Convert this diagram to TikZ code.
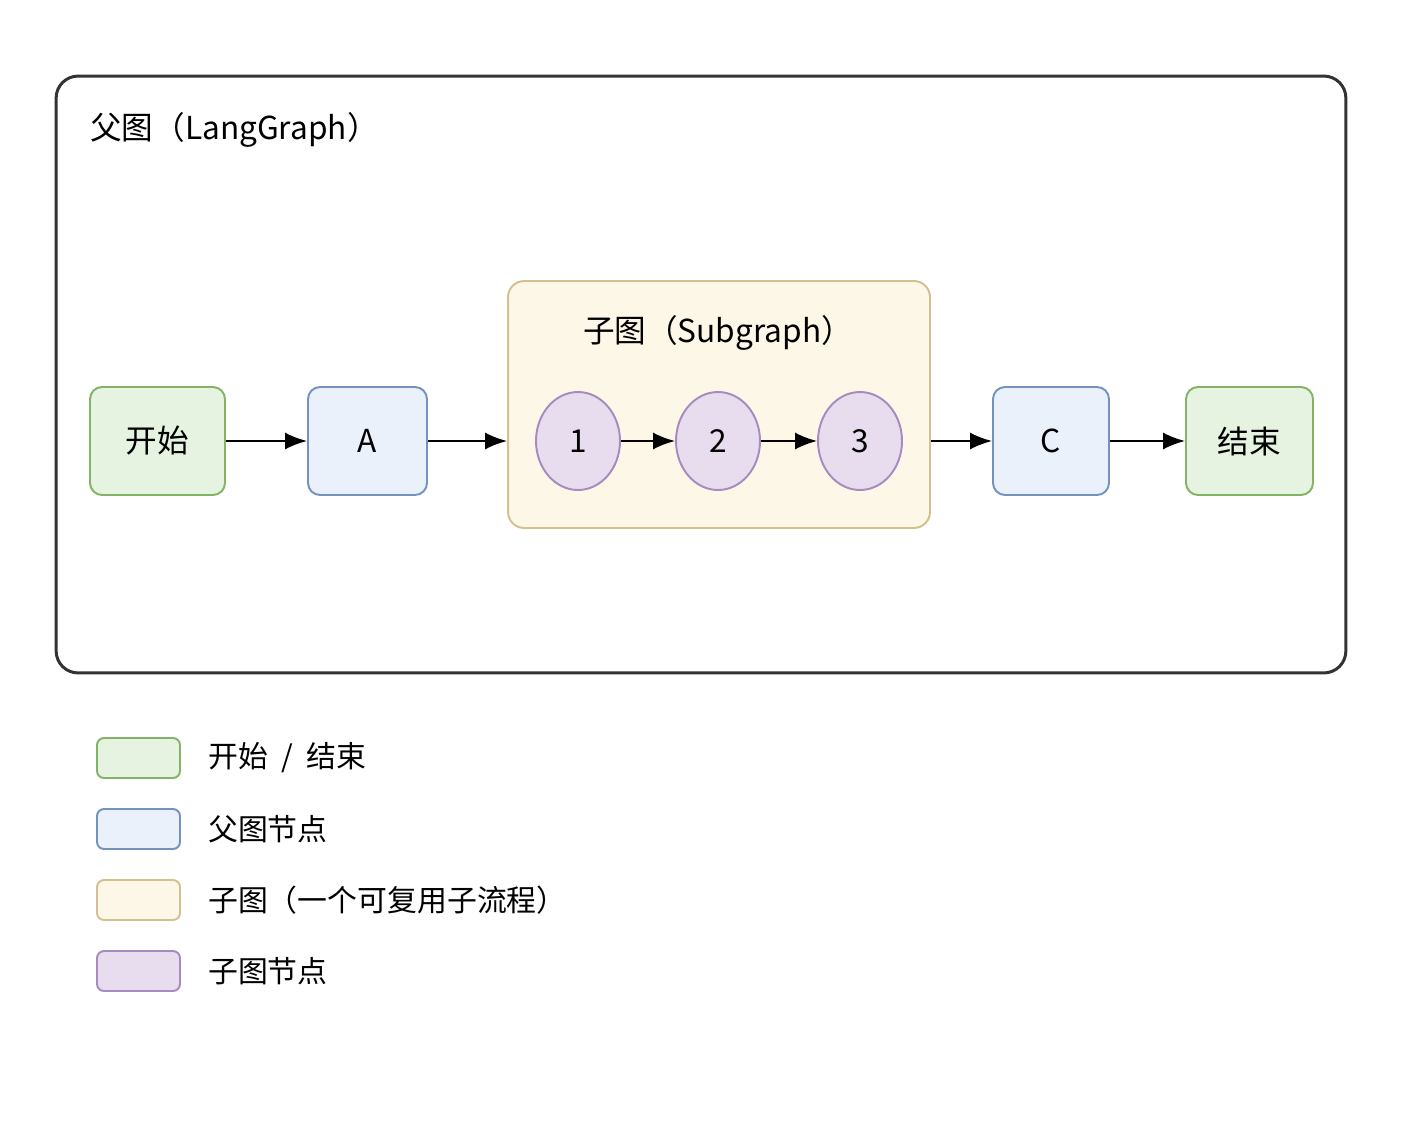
\documentclass[tikz,border=0pt]{standalone}
\usepackage{fontspec}
\setmainfont{Noto Sans CJK SC}
\usetikzlibrary{positioning,arrows.meta,shapes.geometric}

\definecolor{startfill}{HTML}{E6F3E1}
\definecolor{startline}{HTML}{82B366}
\definecolor{parentfill}{HTML}{EAF1FB}
\definecolor{parentline}{HTML}{7393BE}
\definecolor{subfill}{HTML}{FDF7E7}
\definecolor{subline}{HTML}{D3C08E}
\definecolor{circfill}{HTML}{E8DDEF}
\definecolor{circline}{HTML}{A68BBE}
\definecolor{frameline}{HTML}{333333}

\tikzset{
    box/.style={draw, line width=1.1pt, rounded corners=0.24cm, inner sep=0pt, align=center},
    startbox/.style={box, fill=startfill, draw=startline},
    parentbox/.style={box, fill=parentfill, draw=parentline},
    subbox/.style={box, fill=subfill, draw=subline, rounded corners=0.32cm},
    subnode/.style={ellipse, draw=circline, fill=circfill, line width=1.1pt,
        minimum width=1.68cm, minimum height=1.96cm, inner sep=0pt},
    legendbox/.style={rounded corners=0.14cm, minimum width=1.66cm, minimum height=0.8cm},
    legendtext/.style={anchor=west, font=\fontsize{17}{21}\selectfont},
    flow/.style={-{Latex[length=0.44cm,width=0.34cm]}, line width=1.1pt}
}

\begin{document}
\begin{tikzpicture}[x=0.02cm, y=-0.02cm, font=\fontsize{18}{22}\selectfont]
    \useasboundingbox[fill=white] (0,0) rectangle (1402,1122);

    % Parent graph frame
    \node[draw=frameline, line width=1.7pt, rounded corners=0.44cm,
        minimum width=25.8cm, minimum height=11.94cm] (parent) at (701,374.5) {};
    \node[anchor=west] (parenttitle) at (84,130) {父图（LangGraph）};

    % Parent nodes
    \node[startbox, minimum width=2.7cm, minimum height=2.16cm] (start) at (157.5,441) {开始};
    \node[parentbox, minimum width=2.38cm, minimum height=2.16cm] (A) at (367.5,441) {A};
    \node[parentbox, minimum width=2.32cm, minimum height=2.16cm] (C) at (1051,441) {C};
    \node[startbox, minimum width=2.54cm, minimum height=2.16cm] (end) at (1249.5,441) {结束};

    % Subgraph
    \node[subbox, minimum width=8.44cm, minimum height=4.94cm] (sub) at (719,404.5) {};
    \node (subtitle) at (718,333) {子图（Subgraph）};
    \node[subnode] (c1) at (578,441) {1};
    \node[subnode] (c2) at (718,441) {2};
    \node[subnode] (c3) at (860,441) {3};

    % Edges
    \draw[flow] (start) -- (A);
    \draw[flow] (A) -- (A -| sub.west);
    \draw[flow] (c1) -- (c2);
    \draw[flow] (c2) -- (c3);
    \draw[flow] (c3 -| sub.east) -- (C);
    \draw[flow] (C) -- (end);

    % Legend
    \node[startbox, legendbox] (lg1) at (138.5,758) {};
    \node[parentbox, legendbox] (lg2) at (138.5,829) {};
    \node[subbox, legendbox] (lg3) at (138.5,900) {};
    \node[box, legendbox, fill=circfill, draw=circline] (lg4) at (138.5,971) {};
    \node[legendtext] (lt1) at (202,758) {开始\ \ /\ \ 结束};
    \node[legendtext] (lt2) at (202,829) {父图节点};
    \node[legendtext] (lt3) at (202,900) {子图（一个可复用子流程）};
    \node[legendtext] (lt4) at (202,971) {子图节点};
\end{tikzpicture}
\end{document}
